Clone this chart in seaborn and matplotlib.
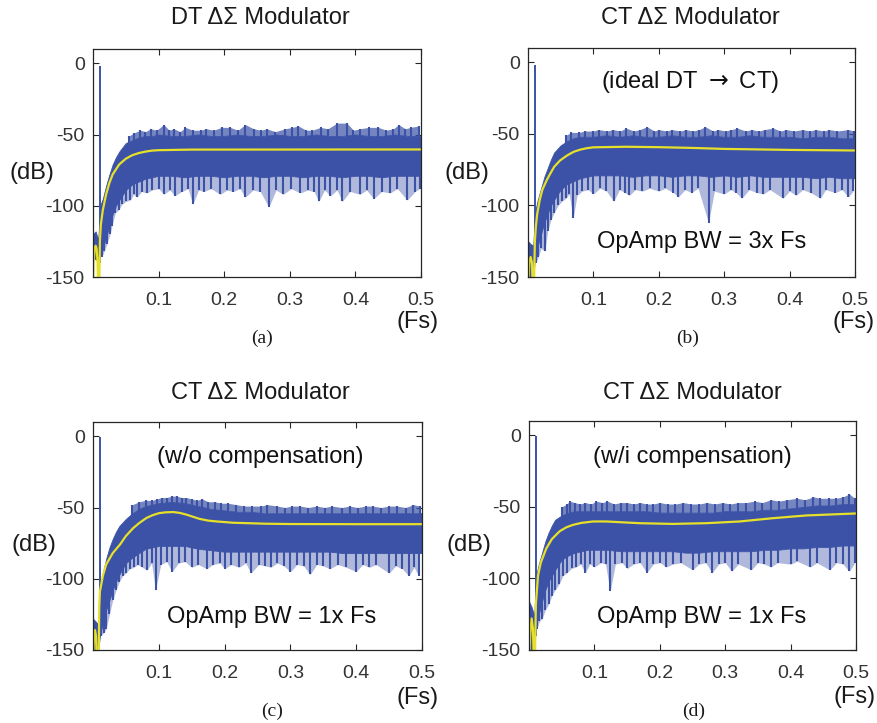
import numpy as np
import matplotlib
matplotlib.use("Agg")
import matplotlib.pyplot as plt
import seaborn as sns

sns.set_theme(style="white")
plt.rcParams['font.family'] = ['Liberation Sans', 'DejaVu Sans']
plt.rcParams['axes.unicode_minus'] = False

W, H = 877, 723
BLUE = '#3b52a6'
YELLOW = '#e6e02a'

# frequency grid (Fs) for the dense body of the noise floor
freq = [0, 0.004, 0.008, 0.011, 0.015, 0.02, 0.025, 0.03, 0.035, 0.04,
        0.05, 0.06, 0.07, 0.08, 0.09, 0.10, 0.12, 0.14, 0.16, 0.18,
        0.20, 0.22, 0.24, 0.26, 0.28, 0.30, 0.32, 0.34, 0.36, 0.38,
        0.40, 0.42, 0.44, 0.46, 0.48, 0.50]

# ---- (a) DT modulator
a_hi = [-120, -118, -124, -100, -95, -86, -78, -71, -66, -62,
        -56, -54, -52, -51, -51, -50, -51, -51, -50, -51,
        -51, -50, -51, -51, -50, -51, -51, -50, -51, -51,
        -50, -51, -51, -50, -51, -51]
a_lo = [-138, -137, -140, -132, -130, -122, -114, -106, -100, -96,
        -89, -85, -83, -81, -80, -79, -79, -80, -79, -79,
        -80, -79, -79, -80, -79, -79, -80, -79, -79, -80,
        -79, -79, -80, -79, -79, -79]
a_fit = [(0, -160), (0.001, -140), (0.0025, -130), (0.004, -128), (0.0055, -130),
         (0.007, -140), (0.008, -160), (0.0095, -160), (0.0105, -125), (0.012, -113),
         (0.015, -103), (0.02, -92), (0.025, -84), (0.03, -78), (0.04, -71),
         (0.05, -67), (0.06, -64.5), (0.07, -63), (0.08, -62), (0.09, -61.3),
         (0.1, -61), (0.15, -60.6), (0.5, -60.5)]
a_up = [(0.055, -51), (0.062, -49), (0.072, -47), (0.08, -48), (0.088, -46), (0.097, -47),
        (0.108, -43), (0.116, -47), (0.123, -46), (0.133, -48), (0.141, -45), (0.152, -47),
        (0.164, -47), (0.173, -46), (0.184, -47), (0.196, -45), (0.209, -45), (0.221, -47),
        (0.232, -43), (0.245, -46), (0.256, -47), (0.265, -46), (0.278, -48), (0.293, -46),
        (0.304, -45), (0.313, -44), (0.325, -47), (0.334, -47), (0.347, -45), (0.358, -46),
        (0.372, -42), (0.387, -42), (0.397, -47), (0.407, -46), (0.42, -45), (0.435, -45),
        (0.447, -47), (0.458, -46), (0.466, -43), (0.476, -46), (0.484, -45), (0.497, -44)]
a_dn = [(0.013, -136), (0.017, -132), (0.021, -127), (0.026, -120), (0.029, -114), (0.034, -105),
        (0.039, -103), (0.044, -99), (0.05, -97), (0.057, -96), (0.062, -92), (0.067, -94),
        (0.074, -90), (0.082, -91), (0.09, -89), (0.1, -88), (0.108, -92), (0.117, -89),
        (0.125, -93), (0.135, -90), (0.145, -88), (0.152, -99), (0.161, -89), (0.169, -90),
        (0.18, -88), (0.194, -92), (0.204, -89), (0.214, -90), (0.224, -88), (0.232, -94),
        (0.244, -89), (0.255, -90), (0.268, -101), (0.279, -89), (0.29, -92), (0.302, -88),
        (0.316, -91), (0.327, -89), (0.337, -90), (0.344, -97), (0.353, -89), (0.362, -93),
        (0.372, -89), (0.38, -97), (0.392, -90), (0.407, -92), (0.417, -89), (0.428, -95),
        (0.44, -90), (0.453, -91), (0.464, -88), (0.479, -96), (0.491, -90), (0.498, -88)]
a_tone = (0.0102, -2)

# ---- (b) CT, ideal DT -> CT, OpAmp BW = 3x Fs
b_hi = [-125, -127, -128, -104, -96, -88, -80, -74, -68, -63,
        -58, -55, -53, -52, -52, -52, -51, -52, -51, -52,
        -52, -51, -52, -52, -51, -52, -52, -51, -52, -52,
        -52, -53, -52, -52, -53, -53]
b_lo = [-150, -150, -150, -135, -128, -120, -112, -106, -100, -96,
        -89, -85, -83, -81, -80, -79, -79, -79, -80, -79,
        -79, -80, -79, -79, -80, -79, -80, -79, -80, -80,
        -80, -80, -81, -80, -81, -81]
b_fit = [(0, -160), (0.002, -140), (0.004, -136), (0.006, -140), (0.0075, -160),
         (0.009, -160), (0.0105, -125), (0.012, -115), (0.014, -106), (0.018, -96),
         (0.022, -89), (0.029, -82), (0.035, -77), (0.04, -73), (0.049, -68.6),
         (0.06, -65), (0.07, -62.5), (0.08, -61), (0.09, -60), (0.1, -59.4),
         (0.15, -59), (0.2, -59.3), (0.25, -59.8), (0.3, -60.5), (0.4, -61.2), (0.5, -61.6)]
b_up = [(0.058, -51), (0.066, -49), (0.078, -49), (0.087, -48), (0.1, -48), (0.108, -47),
        (0.121, -48), (0.13, -47), (0.141, -48), (0.15, -46), (0.162, -48), (0.171, -47),
        (0.182, -45), (0.193, -48), (0.2, -47), (0.212, -48), (0.22, -47), (0.233, -48),
        (0.241, -47), (0.252, -48), (0.262, -47), (0.271, -45), (0.283, -48), (0.291, -47),
        (0.302, -48), (0.311, -47), (0.32, -46), (0.333, -48), (0.342, -47), (0.353, -48),
        (0.362, -47), (0.375, -46), (0.386, -48), (0.395, -47), (0.407, -48), (0.42, -47),
        (0.431, -48), (0.44, -47), (0.452, -48), (0.461, -47), (0.473, -48), (0.49, -47),
        (0.498, -48)]
b_dn = [(0.012, -140), (0.016, -136), (0.02, -130), (0.026, -132), (0.03, -118), (0.035, -110),
        (0.04, -105), (0.046, -100), (0.052, -97), (0.058, -95), (0.063, -92), (0.069, -109),
        (0.075, -93), (0.083, -90), (0.092, -89), (0.1, -92), (0.11, -88), (0.12, -90),
        (0.131, -97), (0.14, -89), (0.148, -91), (0.155, -93), (0.164, -89), (0.175, -90),
        (0.186, -88), (0.2, -90), (0.21, -88), (0.222, -91), (0.23, -94), (0.24, -89),
        (0.25, -91), (0.26, -88), (0.276, -112), (0.285, -90), (0.3, -92), (0.31, -89),
        (0.318, -91), (0.327, -95), (0.338, -89), (0.35, -91), (0.36, -92), (0.37, -89),
        (0.39, -95), (0.4, -90), (0.41, -93), (0.42, -89), (0.432, -91), (0.447, -95),
        (0.455, -89), (0.47, -91), (0.48, -89), (0.49, -94), (0.497, -90)]
b_tone = (0.011, -2)

# ---- (c) CT, w/o compensation, OpAmp BW = 1x Fs
c_hi = [-128, -130, -132, -106, -96, -86, -78, -72, -67, -63,
        -58, -54, -51, -49, -48, -47, -46, -47, -49, -51,
        -52, -53, -53, -54, -54, -54, -54, -54, -54, -54,
        -54, -54, -54, -54, -54, -54]
c_lo = [-150, -150, -150, -138, -132, -122, -115, -108, -102, -97,
        -89, -85, -82, -79, -78, -77, -77, -77, -79, -80,
        -81, -81, -81, -81, -81, -81, -81, -81, -81, -82,
        -82, -82, -82, -82, -82, -82]
c_fit = [(0, -160), (0.0015, -140), (0.003, -136), (0.0045, -140), (0.006, -160),
         (0.0085, -160), (0.0095, -120), (0.0105, -109), (0.015, -98), (0.02, -90),
         (0.03, -82), (0.041, -76), (0.05, -70), (0.061, -64.5), (0.07, -61),
         (0.081, -57.4), (0.09, -55.5), (0.1, -54), (0.11, -53.4), (0.122, -53.2),
         (0.132, -53.8), (0.142, -55), (0.152, -56.5), (0.162, -58), (0.175, -59.2),
         (0.188, -59.8), (0.213, -60.7), (0.264, -61.4), (0.3, -61.6), (0.4, -61.7), (0.5, -61.7)]
c_up = [(0.06, -48), (0.07, -46), (0.08, -45), (0.09, -45), (0.097, -44), (0.105, -43),
        (0.112, -43), (0.12, -42), (0.127, -42), (0.135, -43), (0.142, -43), (0.15, -44),
        (0.158, -45), (0.166, -44), (0.175, -46), (0.185, -46), (0.195, -47), (0.205, -47),
        (0.218, -48), (0.23, -49), (0.242, -49), (0.255, -49), (0.265, -48), (0.28, -49),
        (0.292, -50), (0.302, -49), (0.315, -49), (0.327, -50), (0.34, -49), (0.352, -50),
        (0.363, -49), (0.378, -50), (0.39, -49), (0.402, -50), (0.415, -49), (0.425, -49),
        (0.438, -50), (0.45, -49), (0.462, -49), (0.475, -50), (0.487, -48), (0.497, -49)]
c_dn = [(0.012, -140), (0.016, -138), (0.02, -135), (0.025, -125), (0.03, -115), (0.035, -108),
        (0.04, -102), (0.045, -98), (0.05, -96), (0.056, -93), (0.062, -92), (0.068, -90),
        (0.075, -92), (0.082, -94), (0.089, -89), (0.095, -108), (0.103, -90), (0.112, -88),
        (0.12, -95), (0.13, -89), (0.14, -88), (0.15, -92), (0.16, -90), (0.173, -93),
        (0.182, -90), (0.193, -89), (0.2, -93), (0.21, -90), (0.222, -92), (0.232, -89),
        (0.24, -96), (0.252, -90), (0.262, -91), (0.27, -92), (0.28, -89), (0.29, -91),
        (0.3, -95), (0.31, -90), (0.32, -91), (0.33, -97), (0.34, -90), (0.35, -91),
        (0.36, -93), (0.372, -90), (0.385, -92), (0.4, -95), (0.41, -90), (0.42, -92),
        (0.43, -90), (0.45, -96), (0.46, -91), (0.47, -93), (0.48, -98), (0.488, -92), (0.495, -98)]
c_tone = (0.0107, -0.5)

# ---- (d) CT, w/i compensation, OpAmp BW = 1x Fs
d_hi = [-116, -120, -126, -98, -90, -82, -74, -68, -63, -59,
        -56, -54, -53, -53, -53, -53, -53, -53, -53, -53,
        -54, -54, -54, -54, -54, -53, -53, -53, -52, -52,
        -51, -50, -49, -49, -48, -48]
d_lo = [-150, -150, -150, -130, -125, -116, -108, -102, -98, -94,
        -87, -84, -82, -81, -80, -80, -80, -81, -81, -81,
        -81, -81, -82, -82, -81, -81, -81, -81, -80, -80,
        -79, -79, -78, -78, -77, -77]
d_fit = [(0, -160), (0.002, -138), (0.004, -128), (0.006, -135), (0.0075, -160),
         (0.009, -160), (0.0105, -118), (0.0138, -98), (0.018, -89), (0.0265, -79),
         (0.035, -72.5), (0.047, -67), (0.057, -64.3), (0.067, -62.6), (0.08, -61.2),
         (0.098, -60.2), (0.118, -60.2), (0.169, -61.4), (0.22, -61.9), (0.271, -61.4),
         (0.322, -60.2), (0.373, -57.9), (0.424, -56), (0.5, -54.6)]
d_up = [(0.05, -50), (0.058, -48), (0.062, -46), (0.07, -47), (0.078, -48), (0.086, -47),
        (0.095, -48), (0.103, -46), (0.112, -47), (0.12, -46), (0.13, -48), (0.14, -47),
        (0.15, -47), (0.16, -48), (0.17, -47), (0.18, -48), (0.19, -48), (0.2, -47),
        (0.212, -48), (0.224, -48), (0.236, -47), (0.248, -48), (0.26, -48), (0.272, -47),
        (0.284, -48), (0.296, -47), (0.308, -48), (0.32, -47), (0.332, -47), (0.345, -46),
        (0.357, -47), (0.37, -45), (0.382, -46), (0.395, -45), (0.41, -44), (0.422, -45),
        (0.435, -43), (0.445, -44), (0.458, -44), (0.47, -44), (0.48, -43), (0.49, -41),
        (0.498, -44)]
d_dn = [(0.012, -135), (0.016, -130), (0.02, -128), (0.025, -122), (0.03, -118), (0.035, -112),
        (0.04, -108), (0.046, -104), (0.052, -98), (0.058, -96), (0.065, -93), (0.072, -92),
        (0.079, -90), (0.086, -96), (0.093, -90), (0.1, -92), (0.11, -89), (0.117, -90),
        (0.124, -109), (0.132, -90), (0.142, -89), (0.15, -93), (0.16, -90), (0.17, -89),
        (0.18, -96), (0.19, -90), (0.2, -89), (0.21, -92), (0.22, -90), (0.232, -89),
        (0.25, -94), (0.26, -90), (0.27, -89), (0.28, -96), (0.29, -90), (0.3, -89),
        (0.31, -95), (0.32, -90), (0.34, -94), (0.35, -89), (0.36, -90), (0.37, -92),
        (0.38, -89), (0.4, -90), (0.41, -88), (0.43, -92), (0.44, -89), (0.46, -94),
        (0.47, -89), (0.48, -90), (0.49, -95), (0.498, -89)]
d_tone = (0.0102, -0.5)

xtick_vals = [0.1, 0.2, 0.3, 0.4, 0.5]
xtick_text = ['0.1', '0.2', '0.3', '0.4', '0.5']
ytick_vals = [-150, -100, -50, 0]
ytick_text = ['-150', '-100', '-50', '0']

titles = ['DT \u0394\u03a3 Modulator', 'CT \u0394\u03a3 Modulator',
          'CT \u0394\u03a3 Modulator', 'CT \u0394\u03a3 Modulator']
notes_top = [None, r'(ideal DT $\rightarrow$ CT)', '(w/o compensation)', '(w/i compensation)']
notes_bot = [None, 'OpAmp BW = 3x Fs', 'OpAmp BW = 1x Fs', 'OpAmp BW = 1x Fs']
captions = ['(a)', '(b)', '(c)', '(d)']

series = [(a_hi, a_lo, a_fit, a_up, a_dn, a_tone),
          (b_hi, b_lo, b_fit, b_up, b_dn, b_tone),
          (c_hi, c_lo, c_fit, c_up, c_dn, c_tone),
          (d_hi, d_lo, d_fit, d_up, d_dn, d_tone)]

# pixel layout: axes box (left, top, right, bottom), title, note, label positions
boxes = [(93, 49, 421, 277), (528, 48, 855, 277), (93, 422, 422, 650), (529, 421, 856, 650)]
title_xy = [(260, 18), (690, 18), (260, 393), (692, 393)]
dB_xy = [(32, 173), (467, 173), (34, 545), (469, 545)]
Fs_xy = [(418, 322), (854, 322), (418, 698), (855, 697)]
cap_xy = [(262, 338), (688, 338), (272, 711), (694, 711)]
ntop_xy = [None, (690, 82), (260, 457), (692, 457)]
nbot_xy = [None, (702, 242), (272, 617), (702, 617)]


def fx(x):
    return x / W


def fy(y):
    return 1 - y / H


fig = plt.figure(figsize=(W / 100, H / 100), dpi=100)

for i, (hi, lo, fit, up, dn, tone) in enumerate(series):
    l, t, r, b = boxes[i]
    ax = fig.add_axes([fx(l), fy(b), (r - l) / W, (b - t) / H])

    fit_f = [p[0] for p in fit]
    fit_db = [p[1] for p in fit]
    up_f = [p[0] for p in up]
    up_db = [p[1] for p in up]
    dn_f = [p[0] for p in dn]
    dn_db = [p[1] for p in dn]

    # dense body of the noise floor
    ax.fill_between(freq, lo, hi, color=BLUE, linewidth=0.6, edgecolor=BLUE)

    # fringe where the spikes crowd together
    ax.fill_between(up_f, np.interp(up_f, freq, hi), up_db, color=BLUE,
                    alpha=0.7, linewidth=0)
    ax.fill_between(dn_f, np.interp(dn_f, freq, lo), dn_db, color=BLUE,
                    alpha=0.4, linewidth=0)

    # individual spectral spikes above / below the body
    ax.vlines(up_f, np.interp(up_f, fit_f, fit_db), up_db, color=BLUE, linewidth=1.5)
    ax.vlines(dn_f, np.interp(dn_f, fit_f, fit_db), dn_db, color=BLUE, linewidth=1.5)

    # input tone
    ax.vlines([tone[0]], -140, tone[1], color=BLUE, linewidth=1.4)

    # smoothed NTF fit
    sns.lineplot(x=fit_f, y=fit_db, color=YELLOW, linewidth=1.6, ax=ax, sort=False)

    ax.set_xlim(0, 0.5)
    ax.set_ylim(-150, 10)
    ax.set_xticks(xtick_vals)
    ax.set_xticklabels(xtick_text)
    ax.set_yticks(ytick_vals)
    ax.set_yticklabels(ytick_text)
    ax.tick_params(direction='in', top=True, right=True, bottom=True, left=True,
                   length=4, width=0.8, color='#262626', labelsize=14,
                   labelcolor='#333333')
    ax.tick_params(axis='x', pad=11)
    ax.tick_params(axis='y', pad=6)
    for sp in ax.spines.values():
        sp.set_color('#262626')
        sp.set_linewidth(0.9)
    ax.set_xlabel('')
    ax.set_ylabel('')

    fig.text(fx(title_xy[i][0]), fy(title_xy[i][1]), titles[i], fontsize=17,
             ha='center', va='center', color='#1a1a1a')
    fig.text(fx(dB_xy[i][0]), fy(dB_xy[i][1]), '(dB)', fontsize=17,
             ha='center', va='center', color='#1a1a1a')
    fig.text(fx(Fs_xy[i][0]), fy(Fs_xy[i][1]), '(Fs)', fontsize=17,
             ha='center', va='center', color='#1a1a1a')
    fig.text(fx(cap_xy[i][0]), fy(cap_xy[i][1]), captions[i], fontsize=14,
             ha='center', va='center', color='#1a1a1a',
             family=['Liberation Serif', 'DejaVu Serif'])
    if notes_top[i]:
        fig.text(fx(ntop_xy[i][0]), fy(ntop_xy[i][1]), notes_top[i], fontsize=17,
                 ha='center', va='center', color='#111111')
        fig.text(fx(nbot_xy[i][0]), fy(nbot_xy[i][1]), notes_bot[i], fontsize=17,
                 ha='center', va='center', color='#111111')

fig.savefig('out.png', dpi=100, facecolor='white')
